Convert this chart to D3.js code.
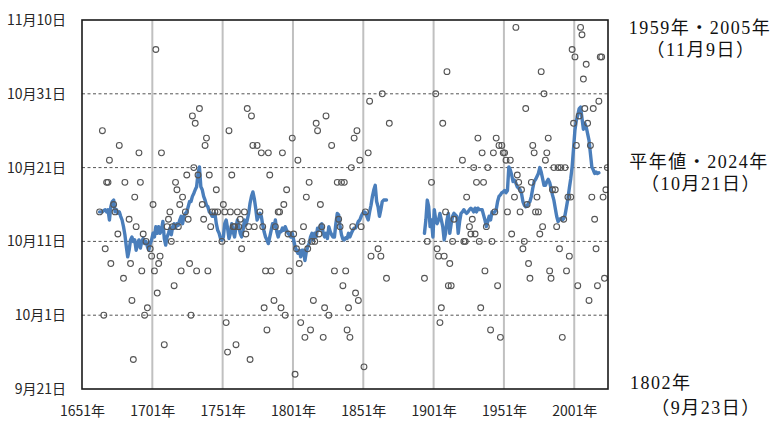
<!DOCTYPE html>
<html><head><meta charset="utf-8">
<script src="https://cdn.jsdelivr.net/npm/d3@7"></script>
<style>body{margin:0;background:#fff}</style>
</head><body><svg id="c" width="777" height="435"></svg>
<script>
// Observed dates, as days after 9月21日
const obsYears = [1663,1665,1666,1667,1668,1669,1670,1671,1673,1674,1676,1677,1680,1681,1684,1685,1686,1687,1688,1689,1691,1692,1693,1694,1695,1696,1697,1699,1700,1701,1702,1703,1704,1705,1706,1707,1709,1711,1712,1713,1714,1715,1716,1717,1718,1719,1720,1721,1722,1724,1725,1726,1727,1728,1729,1730,1731,1732,1733,1734,1736,1737,1738,1739,1740,1741,1742,1743,1745,1746,1747,1750,1751,1752,1753,1754,1755,1756,1757,1758,1759,1760,1761,1762,1763,1764,1766,1767,1768,1769,1770,1771,1772,1773,1775,1777,1778,1779,1780,1781,1782,1783,1784,1785,1787,1788,1790,1791,1792,1793,1794,1795,1796,1797,1798,1800,1801,1802,1803,1804,1805,1806,1807,1808,1809,1810,1811,1812,1813,1814,1815,1816,1817,1818,1819,1820,1821,1822,1823,1824,1826,1828,1830,1832,1833,1834,1835,1836,1837,1838,1839,1840,1841,1842,1843,1844,1845,1846,1847,1848,1849,1851,1852,1854,1855,1856,1861,1863,1864,1867,1869,
1894,1896,1899,1902,1903,1904,1905,1906,1907,1908,1909,1910,1911,1912,1913,1914,1915,1921,1922,1923,1924,1926,1927,1928,1929,1930,1931,1932,1933,1934,1935,1936,1937,1938,1939,1941,1942,1943,1944,1945,1946,1947,1948,1949,1950,1951,1952,1953,1955,1956,1958,1959,1960,1961,1962,1963,1964,1965,1966,1967,1968,1969,1970,1971,1972,1973,1974,1975,1976,1977,1978,1979,1980,1981,1982,1983,1984,1985,1986,1987,1988,1989,1990,1991,1992,1993,1994,1995,1996,1997,1998,1999,2000,2001,2002,2003,2004,2005,2006,2007,2008,2009,2010,2011,2012,2013,2014,2015,2016,2017,2018,2019,2020,2021,2022,2023,2024];
const obsDays = [24,35,10,19,28,28,31,17,25,24,21,33,15,28,23,17,12,4,26,22,32,28,16,21,10,20,11,19,18,25,16,46,13,17,18,32,6,22,23,24,20,22,14,28,27,22,25,16,26,24,29,23,17,10,37,30,36,16,29,38,25,23,33,34,16,29,22,24,24,27,24,20,25,24,9,5,35,24,29,22,22,6,24,22,23,19,24,21,38,22,4,37,33,22,33,24,32,22,11,16,8,32,29,16,12,22,24,24,11,32,25,10,27,21,16,34,21,2,19,31,17,9,20,22,7,26,19,28,8,20,12,20,36,35,21,25,22,7,11,37,10,33,16,28,23,22,28,14,28,16,8,11,7,30,22,34,13,35,12,31,22,3,24,32,39,18,19,18,40,15,36,
15,20,28,40,19,18,9,11,36,18,24,43,14,17,14,20,23,31,20,20,26,22,21,23,30,21,28,34,20,11,32,28,16,22,30,8,20,32,24,34,14,33,7,33,32,32,31,24,31,21,26,49,29,28,24,27,19,20,38,25,17,15,28,33,32,24,26,24,21,43,22,40,31,32,34,16,15,27,30,27,22,30,19,30,7,23,30,16,26,18,26,46,36,45,33,14,37,49,48,42,38,44,36,12,33,26,38,23,19,14,39,45,45,26,15,27,30];

// Smoothed curve (days after 9月21日), two eras
const avgStart1 = 1663;
const avgEra1 = [24.0,24.0,24.0,24.2,24.3,24.0,24.3,22.9,24.7,25.4,25.6,24.0,24.3,23.8,24.0,23.4,22.9,22.0,20.9,19.3,17.9,18.8,20.2,20.6,20.0,20.2,18.8,19.7,20.2,19.1,20.0,20.4,19.7,20.0,19.3,18.8,19.7,20.2,21.1,20.6,22.0,21.1,22.0,21.1,21.5,22.7,20.4,19.5,20.6,21.1,21.8,20.9,22.0,22.4,21.8,22.4,22.2,22.9,23.4,22.4,23.4,23.8,24.0,24.7,25.4,25.4,26.1,26.5,27.0,27.4,29.2,30.1,27.4,27.0,26.1,25.6,24.9,24.7,24.0,23.8,23.4,23.4,23.8,22.4,21.5,21.1,20.4,20.2,20.6,22.4,22.9,21.8,20.4,21.1,22.4,21.3,20.6,22.0,22.9,22.0,21.1,20.6,21.5,22.9,22.2,22.9,23.8,25.2,26.1,26.7,25.8,24.5,22.9,23.4,23.8,23.4,22.2,21.3,20.6,20.2,19.7,20.6,21.5,22.4,22.0,22.9,21.3,20.6,21.3,21.3,21.8,21.5,22.0,21.5,21.1,20.9,20.6,21.1,20.2,19.3,18.8,18.4,18.8,17.9,18.8,18.8,17.4,18.6,19.3,19.7,20.6,21.1,20.2,21.1,20.6,21.8,21.5,22.2,22.4,21.1,20.6,21.1,20.4,22.0,21.3,20.9,20.6,20.6,22.4,23.8,23.6,22.0,20.9,20.3,20.2,20.5,20.4,21.1,20.6,21.1,21.5,21.8,21.8,22.2,22.7,22.9,23.4,23.8,24.0,23.9,23.4,22.9,24.0,24.9,26.1,27.0,27.6,25.4,24.7,23.4,24.3,25.4,25.6,25.6,25.6];
const avgStart2 = 1894;
const avgEra2 = [21.1,22.9,25.6,24.7,22.0,22.9,20.6,24.3,22.9,22.4,22.9,23.8,22.9,22.0,20.2,21.1,22.9,23.8,21.1,22.4,23.4,23.8,23.6,23.4,21.1,22.7,23.8,24.0,24.3,24.0,23.8,24.0,24.3,24.5,24.3,24.0,24.5,24.0,24.5,24.3,24.3,24.3,23.6,22.9,22.0,22.7,23.4,22.9,24.0,23.8,24.0,24.3,25.4,26.1,26.3,26.6,26.7,26.9,26.6,26.9,30.1,29.7,29.0,28.1,28.3,27.9,27.4,27.2,27.0,26.5,25.4,24.9,24.7,24.8,25.2,25.4,26.1,27.2,28.1,28.4,28.8,29.2,30.0,29.4,28.5,27.6,27.6,28.1,28.4,28.0,27.2,26.3,25.6,24.5,23.4,22.7,23.0,23.1,22.9,23.1,23.6,24.7,25.8,27.2,28.5,30.1,32.6,35.1,36.4,37.1,38.0,38.2,36.7,35.2,36.0,35.5,34.6,33.7,31.9,30.1,29.7,29.2,29.4,29.2,29.3];

const yTickValues = [0,10,20,30,40,50];
const yTickLabels = ["9月21日","10月1日","10月11日","10月21日","10月31日","11月10日"];
const xTickYears = [1651,1701,1751,1801,1851,1901,1951,2001];
const xTickLabels = ["1651年","1701年","1751年","1801年","1851年","1901年","1951年","2001年"];
const noteLines = ["1959年・2005年","（11月9日）","平年値・2024年","（10月21日）","1802年","（9月23日）"];

const W = 777, H = 435;
const L = 82, R = 608, T = 20, B = 389;
const svg = d3.select("#c");
const x = d3.scaleLinear().domain([1651, 2025]).range([L, R]);
const y = d3.scaleLinear().domain([0, 50]).range([B, T]);
const font = "'Noto Sans CJK JP','Noto Sans',sans-serif";

svg.append("defs").append("clipPath").attr("id","plot")
  .append("rect").attr("x",L).attr("y",T).attr("width",R-L).attr("height",B-T);

// vertical grid
svg.append("g").selectAll("line").data(xTickYears.slice(1)).join("line")
  .attr("x1",d=>x(d)).attr("x2",d=>x(d)).attr("y1",T).attr("y2",B)
  .attr("stroke","#c0c0c0").attr("stroke-width",2);
// horizontal dashed grid
svg.append("g").selectAll("line").data(yTickValues.slice(1,-1)).join("line")
  .attr("x1",L).attr("x2",R).attr("y1",d=>y(d)).attr("y2",d=>y(d))
  .attr("stroke","#555").attr("stroke-width",1).attr("stroke-dasharray","3,2.5");

// smoothed line
const line = d3.line().x(d=>x(d.year+0.5)).y(d=>y(d.v)).curve(d3.curveLinear);
[[avgStart1,avgEra1],[avgStart2,avgEra2]].forEach(([s,arr])=>{
  svg.append("path").datum(arr.map((v,i)=>({year:s+i,v})))
    .attr("d",line).attr("fill","none").attr("stroke","#4a7ebb")
    .attr("stroke-width",3.4).attr("stroke-linejoin","round").attr("stroke-linecap","round");
});

// points
svg.append("g").attr("clip-path","url(#plot)").selectAll("circle")
  .data(obsYears.map((yr,i)=>({yr,d:obsDays[i]}))).join("circle")
  .attr("cx",d=>x(d.yr+0.5)).attr("cy",d=>y(d.d)).attr("r",2.9)
  .attr("fill","none").attr("stroke","#555").attr("stroke-width",1.1);

// frame
svg.append("rect").attr("x",L).attr("y",T).attr("width",R-L).attr("height",B-T)
  .attr("fill","none").attr("stroke","#1a1a1a").attr("stroke-width",1.6);

// axes
const ya = svg.append("g").attr("transform",`translate(${L},0)`)
  .call(d3.axisLeft(y).tickValues(yTickValues).tickFormat((d,i)=>yTickLabels[i]).tickSize(0).tickPadding(16));
ya.select(".domain").remove();
ya.selectAll("text").attr("font-family",font).attr("font-size",14).attr("fill","#262626");
const xa = svg.append("g").attr("transform",`translate(0,${B})`)
  .call(d3.axisBottom(x).tickValues(xTickYears).tickFormat((d,i)=>xTickLabels[i]).tickSize(0).tickPadding(17));
xa.select(".domain").remove();
xa.selectAll("text").attr("font-family",font).attr("font-size",14).attr("fill","#262626");

// annotations
const nfont = "'Liberation Serif','Noto Sans CJK JP',serif";
const notePos = [[700,34,"middle"],[701,56,"middle"],[699,168,"middle"],[701,190,"middle"],[630,389,"start"],[706,414,"middle"]];
svg.append("g").selectAll("text").data(noteLines).join("text")
  .attr("x",(d,i)=>notePos[i][0]).attr("y",(d,i)=>notePos[i][1])
  .attr("text-anchor",(d,i)=>notePos[i][2])
  .attr("font-family",nfont).attr("font-size",18).attr("letter-spacing",1.5)
  .attr("fill","#111").text(d=>d);
</script></body></html>
